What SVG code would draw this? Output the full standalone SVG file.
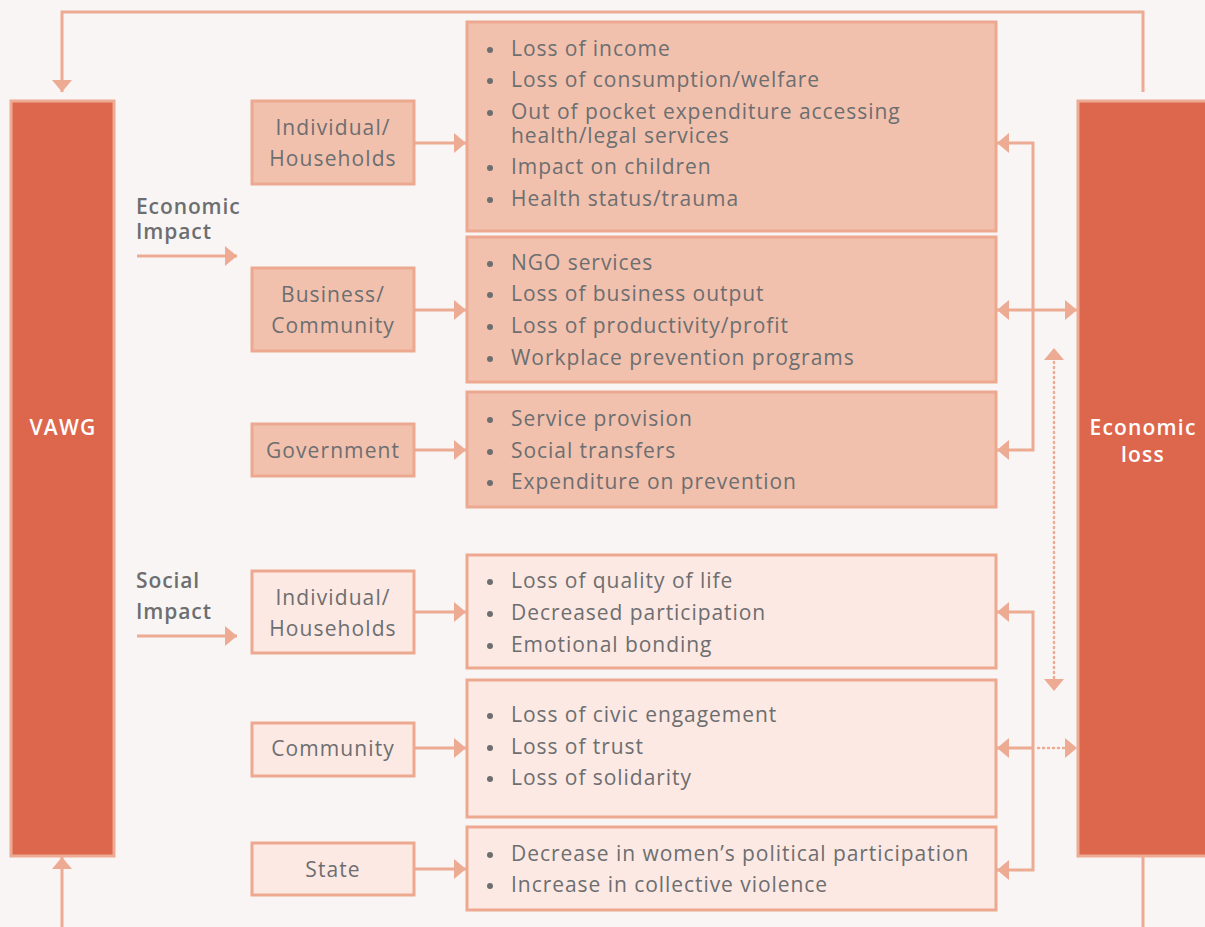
<svg xmlns="http://www.w3.org/2000/svg" width="1205" height="927" viewBox="0 0 1205 927">
<defs>
<style>
.bg{fill:#f9f5f4}
.big{fill:#dd674d;stroke:#eeab93;stroke-width:3}
.eco{fill:#f1c1ae;stroke:#eda890;stroke-width:3}
.soc{fill:#fce9e3;stroke:#eda890;stroke-width:3}
.ln{fill:none;stroke:#eeab93;stroke-width:3}
.dot{fill:none;stroke:#eeab93;stroke-width:2.5;stroke-dasharray:1 4;stroke-linecap:round}
.bul{fill:#6d6e70}
text{font-family:"Open Sans","Liberation Sans",sans-serif;fill:#6d6e70}
.cat{font-size:21px;text-anchor:middle;letter-spacing:1.1px}
.item{font-size:21px;letter-spacing:0.95px}
.head{font-size:21px;font-weight:600;letter-spacing:0.9px}
.wt{fill:#ffffff;font-size:21px;font-weight:600;text-anchor:middle;letter-spacing:1.2px}
</style>
<marker id="ah" markerUnits="userSpaceOnUse" markerWidth="12" markerHeight="20" refX="12" refY="10" orient="auto-start-reverse" viewBox="0 0 12 20">
<path d="M0,0 L12,10 L0,20 z" fill="#eeab93"/>
</marker>
</defs>
<rect class="bg" x="0" y="0" width="1205" height="927"/>

<g id="connectors">
<polyline class="ln" points="1143,92 1143,12 62,12 62,92" marker-end="url(#ah)"/>
<line class="ln" x1="62" y1="927" x2="62" y2="857" marker-end="url(#ah)"/>
<line class="ln" x1="1143" y1="856" x2="1143" y2="927"/>
<line class="ln" x1="137" y1="256" x2="237" y2="256" marker-end="url(#ah)"/>
<line class="ln" x1="137" y1="636" x2="237" y2="636" marker-end="url(#ah)"/>
<line class="ln" x1="414" y1="143" x2="466" y2="143" marker-end="url(#ah)"/>
<line class="ln" x1="414" y1="310" x2="466" y2="310" marker-end="url(#ah)"/>
<line class="ln" x1="414" y1="450" x2="466" y2="450" marker-end="url(#ah)"/>
<line class="ln" x1="414" y1="612" x2="466" y2="612" marker-end="url(#ah)"/>
<line class="ln" x1="414" y1="748" x2="466" y2="748" marker-end="url(#ah)"/>
<line class="ln" x1="414" y1="869" x2="466" y2="869" marker-end="url(#ah)"/>
<polyline class="ln" points="997,143 1033,143 1033,450 997,450" marker-start="url(#ah)" marker-end="url(#ah)"/>
<line class="ln" x1="997" y1="310" x2="1077" y2="310" marker-start="url(#ah)" marker-end="url(#ah)"/>
<polyline class="ln" points="997,612 1033,612 1033,870 997,870" marker-start="url(#ah)" marker-end="url(#ah)"/>
<line class="ln" x1="997" y1="748" x2="1033" y2="748" marker-start="url(#ah)"/>
<line class="dot" x1="1038" y1="748" x2="1066" y2="748"/>
<path d="M1065,738 L1077,748 L1065,758 z" fill="#eeab93"/>
<line class="dot" x1="1054" y1="362" x2="1054" y2="678"/>
<path d="M1044,360 L1054,348 L1064,360 z" fill="#eeab93"/>
<path d="M1044,679 L1054,691 L1064,679 z" fill="#eeab93"/>
</g>

<g id="vawg">
<rect class="big" x="11" y="101" width="103" height="755"/>
<text class="wt" x="63" y="435">VAWG</text>
</g>
<g id="economic-loss">
<rect class="big" x="1078" y="101" width="130" height="755"/>
<text class="wt" x="1143" y="435">Economic</text>
<text class="wt" x="1143" y="462">loss</text>
</g>

<g id="economic-impact-label">
<text class="head" x="136" y="214">Economic</text>
<text class="head" x="136" y="239">Impact</text>
</g>
<g id="social-impact-label">
<text class="head" x="136" y="588">Social</text>
<text class="head" x="136" y="619">Impact</text>
</g>

<g id="eco-individual">
<rect class="eco" x="252" y="101" width="162" height="83"/>
<text class="cat" x="333" y="135">Individual/</text>
<text class="cat" x="333" y="166">Households</text>
</g>
<g id="eco-business">
<rect class="eco" x="252" y="268" width="162" height="83"/>
<text class="cat" x="333" y="302">Business/</text>
<text class="cat" x="333" y="333">Community</text>
</g>
<g id="eco-government">
<rect class="eco" x="252" y="424" width="162" height="52"/>
<text class="cat" x="333" y="458">Government</text>
</g>
<g id="soc-individual">
<rect class="soc" x="252" y="571" width="162" height="82"/>
<text class="cat" x="333" y="605">Individual/</text>
<text class="cat" x="333" y="636">Households</text>
</g>
<g id="soc-community">
<rect class="soc" x="252" y="723" width="162" height="53"/>
<text class="cat" x="333" y="756">Community</text>
</g>
<g id="soc-state">
<rect class="soc" x="252" y="843" width="162" height="52"/>
<text class="cat" x="333" y="877">State</text>
</g>

<g id="eco-individual-items">
<rect class="eco" x="467" y="22" width="529" height="209"/>
<circle class="bul" cx="490" cy="50" r="3"/><text class="item" x="511" y="56">Loss of income</text>
<circle class="bul" cx="490" cy="81" r="3"/><text class="item" x="511" y="87">Loss of consumption/welfare</text>
<circle class="bul" cx="490" cy="113" r="3"/><text class="item" x="511" y="119">Out of pocket expenditure accessing</text>
<text class="item" x="511" y="143">health/legal services</text>
<circle class="bul" cx="490" cy="168" r="3"/><text class="item" x="511" y="174">Impact on children</text>
<circle class="bul" cx="490" cy="200" r="3"/><text class="item" x="511" y="206">Health status/trauma</text>
</g>
<g id="eco-business-items">
<rect class="eco" x="467" y="237" width="529" height="145"/>
<circle class="bul" cx="490" cy="264" r="3"/><text class="item" x="511" y="270">NGO services</text>
<circle class="bul" cx="490" cy="295" r="3"/><text class="item" x="511" y="301">Loss of business output</text>
<circle class="bul" cx="490" cy="327" r="3"/><text class="item" x="511" y="333">Loss of productivity/profit</text>
<circle class="bul" cx="490" cy="359" r="3"/><text class="item" x="511" y="365">Workplace prevention programs</text>
</g>
<g id="eco-government-items">
<rect class="eco" x="467" y="392" width="529" height="115"/>
<circle class="bul" cx="490" cy="420" r="3"/><text class="item" x="511" y="426">Service provision</text>
<circle class="bul" cx="490" cy="452" r="3"/><text class="item" x="511" y="458">Social transfers</text>
<circle class="bul" cx="490" cy="483" r="3"/><text class="item" x="511" y="489">Expenditure on prevention</text>
</g>
<g id="soc-individual-items">
<rect class="soc" x="467" y="555" width="529" height="113"/>
<circle class="bul" cx="490" cy="582" r="3"/><text class="item" x="511" y="588">Loss of quality of life</text>
<circle class="bul" cx="490" cy="614" r="3"/><text class="item" x="511" y="620">Decreased participation</text>
<circle class="bul" cx="490" cy="646" r="3"/><text class="item" x="511" y="652">Emotional bonding</text>
</g>
<g id="soc-community-items">
<rect class="soc" x="467" y="680" width="529" height="137"/>
<circle class="bul" cx="490" cy="716" r="3"/><text class="item" x="511" y="722">Loss of civic engagement</text>
<circle class="bul" cx="490" cy="748" r="3"/><text class="item" x="511" y="754">Loss of trust</text>
<circle class="bul" cx="490" cy="779" r="3"/><text class="item" x="511" y="785">Loss of solidarity</text>
</g>
<g id="soc-state-items">
<rect class="soc" x="467" y="827" width="529" height="83"/>
<circle class="bul" cx="490" cy="855" r="3"/><text class="item" x="511" y="861">Decrease in women’s political participation</text>
<circle class="bul" cx="490" cy="886" r="3"/><text class="item" x="511" y="892">Increase in collective violence</text>
</g>
</svg>
